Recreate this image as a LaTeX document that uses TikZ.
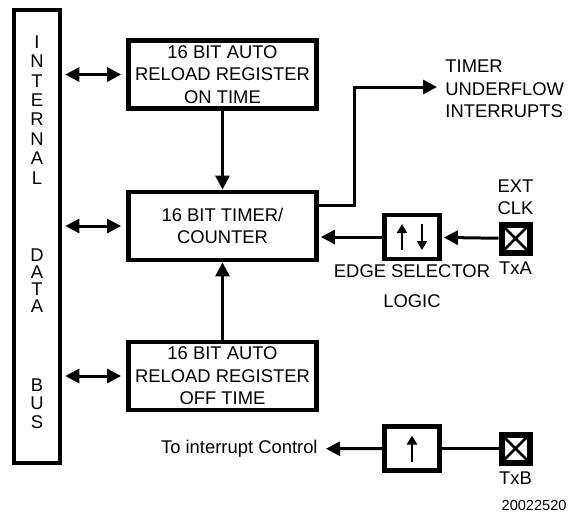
\documentclass[tikz,border=0pt]{standalone}
\usepackage{fontspec}
\setmainfont{Liberation Sans}
\usetikzlibrary{arrows.meta,positioning}

\tikzset{
  regbox/.style={draw,line width=2.4pt,minimum width=94pt,minimum height=34pt,align=center,inner sep=0pt},
  selbox/.style={draw,line width=2.4pt,minimum width=27.5pt,minimum height=22pt,inner sep=0pt},
  pad/.style={draw,line width=3pt,minimum size=14pt,inner sep=0pt,
    path picture={\draw[line width=1.3pt] (path picture bounding box.north west) -- (path picture bounding box.south east)
      (path picture bounding box.north east) -- (path picture bounding box.south west);}},
  conn/.style={line width=1.5pt,-{Triangle[length=7pt,width=7pt]}},
  bidir/.style={line width=1.5pt,{Triangle[length=7pt,width=7pt]}-{Triangle[length=7pt,width=7pt]},shorten <=1.5pt,shorten >=2.5pt},
  tick/.style={line width=1.3pt,-{Triangle[length=4.5pt,width=5pt]}}
}

\begin{document}
\begin{tikzpicture}[x=0.5pt,y=-0.5pt,font=\fontsize{9.2}{11.2}\selectfont]
    \useasboundingbox (0,0) rectangle (568,514);
    % data bus
    \node[draw,line width=2.3pt,minimum width=23pt,minimum height=226.5pt] (bus) at (37,236.5) {};
    \foreach \l [count=\i] in {I,N,T,E,R,N,A,L}
      \node (busA\i) at (37,22.5+19.4*\i) {\l};
    \foreach \l [count=\i] in {D,A,T,A}
      \node (busB\i) at (37,238+17*\i) {\l};
    \foreach \l [count=\i] in {B,U,S}
      \node (busC\i) at (37,366.5+18.5*\i) {\l};
    % registers and counter
    \node[regbox] (onreg) at (222.5,74.5) {16 BIT AUTO\\RELOAD REGISTER\\ON TIME};
    \node[regbox] (timer) at (222.5,226) {16 BIT TIMER/\\COUNTER};
    \node[regbox] (offreg) at (222.5,376) {16 BIT AUTO\\RELOAD REGISTER\\OFF TIME};
    \draw[bidir] (bus.east |- onreg.west) -- (onreg.west);
    \draw[bidir] (bus.east |- timer.west) -- (timer.west);
    \draw[bidir] (bus.east |- offreg.west) -- (offreg.west);
    \draw[conn] (onreg.south) -- (timer.north);
    \draw[conn] (offreg.north) -- (timer.south);
    % underflow output
    \node[anchor=west,align=left,inner sep=0pt] (uftext) at (445,89) {TIMER\\UNDERFLOW\\INTERRUPTS};
    \coordinate (ufbend) at (354,87);
    \draw[conn,shorten >=4pt] ([yshift=10.5pt]timer.east) -| (ufbend) -- (ufbend -| uftext.west);
    % external clock path
    \node[selbox] (edge) at (412,237) {};
    \draw[tick] ([xshift=-5pt,yshift=-6.5pt]edge.center) -- ([xshift=-5pt,yshift=6.5pt]edge.center);
    \draw[tick] ([xshift=5pt,yshift=6.5pt]edge.center) -- ([xshift=5pt,yshift=-6.5pt]edge.center);
    \node[align=center,inner sep=0pt,below=1.5pt of edge] (edgelbl) {EDGE SELECTOR\\[3.5pt]LOGIC};
    \node[pad] (padA) at (515.5,238.5) {};
    \node[align=center,inner sep=0pt,above=3pt of padA] (extclk) {EXT\\CLK};
    \node[inner sep=0pt,below=3pt of padA] (txa) {TxA};
    \draw[conn,shorten >=1pt] (padA) -- (edge);
    \draw[conn,shorten >=1pt] (edge) -- (edge -| timer.east);
    % TxB path
    \node[selbox] (pulse) at (412,448.5) {};
    \draw[tick] ([yshift=-6.5pt]pulse.center) -- ([yshift=6.5pt]pulse.center);
    \node[pad] (padB) at (515.5,448.5) {};
    \node[inner sep=0pt,below=3pt of padB] (txb) {TxB};
    \node[anchor=east,inner sep=0pt] (intctl) at (318,449) {To interrupt Control};
    \draw[line width=1.5pt] (padB) -- (pulse);
    \draw[conn,shorten >=4pt] (pulse) -- (intctl);
    \node[anchor=east,inner sep=0pt,font=\fontsize{7.3}{9}\selectfont] (fignum) at (567,505) {20022520};
\end{tikzpicture}
\end{document}
